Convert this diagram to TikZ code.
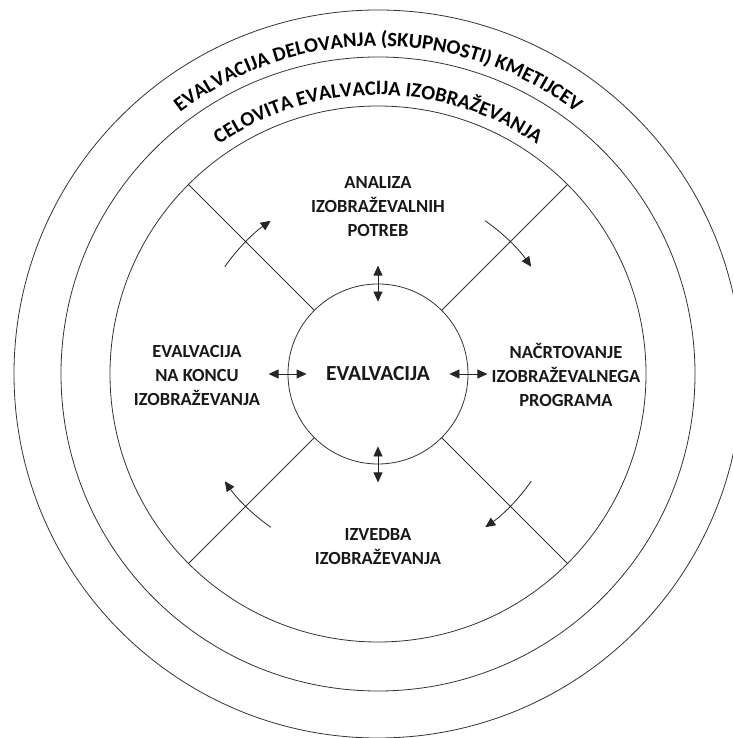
\documentclass[tikz,border=0pt]{standalone}
\usepackage{fontspec}
\setmainfont{Carlito}[BoldFont={Carlito Bold}]
\usetikzlibrary{arrows.meta,decorations.text}
\newcommand\ringfont{\fontsize{20.5}{24}\selectfont\bfseries}
\begin{document}
\begin{tikzpicture}[
	x=1pt, y=1pt,
	ring/.style={draw=black!80, line width=0.8pt},
	phase/.style={align=center, text=black!90, font=\fontsize{18.5}{24}\selectfont\bfseries},
	dbl/.style={{Triangle[length=10pt,width=9pt]}-{Triangle[length=10pt,width=9pt]}, line width=0.8pt, black!85},
	turn/.style={-{Triangle[length=10pt,width=9pt]}, line width=0.8pt, black!85},
]
\useasboundingbox (-378,-364) rectangle (354,374);

%%% RINGS
\draw [ring] (0,0) circle [radius=364pt];
\draw [ring] (0,0) circle [radius=317pt];
\draw [ring] (0,0) circle [radius=268pt];

\path [decorate, decoration={text along path, text align=center,
	text={|\ringfont|EVALVACIJA DELOVANJA (SKUPNOSTI) KMETIJCEV}}]
	(180:328pt) arc [start angle=180, end angle=0, radius=328pt];
\path [decorate, decoration={text along path, text align=center,
	text={|\ringfont|CELOVITA EVALVACIJA IZOBRAŽEVANJA}}]
	(180:279pt) arc [start angle=180, end angle=0, radius=279pt];

%%% CENTRE
\node [ring, circle, minimum size=180pt, inner sep=0pt, text=black!90,
	font=\fontsize{21.5}{24}\selectfont\bfseries] (eval) at (0,0) {EVALVACIJA};

\foreach \a in {45,135,225,315}
	\draw [ring] (eval.\a) -- (\a:268pt);

%%% PHASES
\node [phase] (analiza) at (0,167) {ANALIZA\\IZOBRAŽEVALNIH\\POTREB};
\node [phase] (nacrt) at (188,-1) {NAČRTOVANJE\\IZOBRAŽEVALNEGA\\PROGRAMA};
\node [phase] (izvedba) at (0,-173) {IZVEDBA\\IZOBRAŽEVANJA};
\node [phase] (konec) at (-181,-1) {EVALVACIJA\\NA KONCU\\IZOBRAŽEVANJA};

\draw [dbl] ([yshift=18pt]eval.north) -- ([yshift=-18pt]eval.north);
\draw [dbl] ([xshift=19pt]eval.east) -- ([xshift=-19pt]eval.east);
\draw [dbl] ([yshift=18pt]eval.south) -- ([yshift=-18pt]eval.south);
\draw [dbl] ([xshift=19pt]eval.west) -- ([xshift=-19pt]eval.west);

%%% CYCLE
\foreach \a in {135,45,-45,-135}
	\draw [turn] (\a+10:187pt) arc [start angle=\a+10, end angle=\a-10, radius=187pt];

\end{tikzpicture}
\end{document}
